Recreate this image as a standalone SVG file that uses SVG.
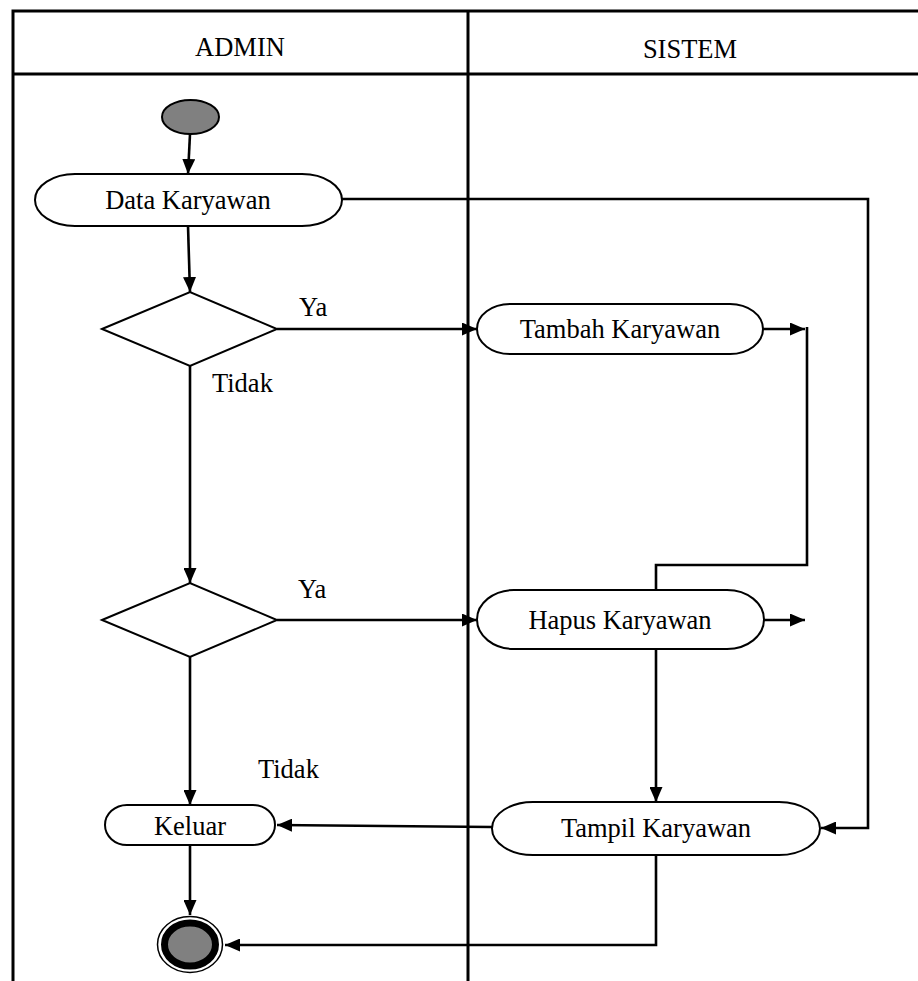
<svg xmlns="http://www.w3.org/2000/svg" width="918" height="981" viewBox="0 0 918 981">
  <style>
    .lane { stroke: #000; stroke-width: 3; fill: none; }
    .node { fill: #fff; stroke: #000; stroke-width: 2; }
    .txt { font-family: "Liberation Serif", "Times New Roman", serif; font-size: 26.5px; fill: #000; }
    .mid { text-anchor: middle; }
    .edge { stroke: #000; stroke-width: 2.6; fill: none; marker-end: url(#arrow); }
    .line { stroke: #000; stroke-width: 2.6; fill: none; }
  </style>
  <defs>
    <marker id="arrow" markerUnits="userSpaceOnUse" markerWidth="15" markerHeight="13" refX="15" refY="6.5" orient="auto">
      <path d="M0,0 L15,6.5 L0,13 z" fill="#000"/>
    </marker>
  </defs>
  <rect width="918" height="981" fill="#fff"/>

  <!-- swimlane table -->
  <g id="lanes">
    <path class="lane" d="M13,981 V11 H918 M13,74 H918 M468,11 V981"/>
    <text class="txt mid" x="240" y="56">ADMIN</text>
    <text class="txt mid" x="690" y="58">SISTEM</text>
  </g>

  <!-- connectors -->
  <g id="connectors">
    <path class="edge" d="M190,134 L188,174"/>
    <path class="edge" d="M188,226 L190,292"/>
    <path class="edge" d="M277,329 H477"/>
    <path class="edge" d="M190,366 V583"/>
    <path class="edge" d="M277,620 H477"/>
    <path class="edge" d="M190,657 V805"/>
    <path class="edge" d="M190,845 V915"/>
    <path class="edge" d="M342,199 H868 V828 H821"/>
    <path class="edge" d="M763,329 H805"/>
    <path class="line" d="M807,327 V565 H656 V590"/>
    <path class="edge" d="M764,620 H805"/>
    <path class="edge" d="M656,649 V802"/>
    <path class="edge" d="M492,827 L277,825"/>
    <path class="edge" d="M656,855 V945 H225"/>
    <text class="txt" x="299" y="316">Ya</text>
    <text class="txt" x="212" y="392">Tidak</text>
    <text class="txt" x="298" y="598">Ya</text>
    <text class="txt" x="258" y="778">Tidak</text>
  </g>

  <g id="start">
    <ellipse cx="190.5" cy="117" rx="28.5" ry="17" fill="#808080" stroke="#000" stroke-width="2"/>
  </g>

  <g id="data-karyawan">
    <rect class="node" x="35" y="174" width="307" height="52" rx="40" ry="26"/>
    <text class="txt mid" x="188" y="209">Data Karyawan</text>
  </g>

  <g id="decision-tambah">
    <polygon class="node" points="102,329 190,292 277,329 190,366"/>
  </g>

  <g id="decision-hapus">
    <polygon class="node" points="102,620 190,583 277,620 190,657"/>
  </g>

  <g id="tambah-karyawan">
    <rect class="node" x="477" y="304" width="286" height="50" rx="33" ry="25"/>
    <text class="txt mid" x="620" y="338">Tambah Karyawan</text>
  </g>

  <g id="hapus-karyawan">
    <rect class="node" x="477" y="590" width="287" height="59" rx="37" ry="29.5"/>
    <text class="txt mid" x="620" y="629">Hapus Karyawan</text>
  </g>

  <g id="tampil-karyawan">
    <rect class="node" x="492" y="802" width="328" height="53" rx="41" ry="26.5"/>
    <text class="txt mid" x="656" y="837">Tampil Karyawan</text>
  </g>

  <g id="keluar">
    <rect class="node" x="105" y="805" width="170" height="40" rx="22" ry="20"/>
    <text class="txt mid" x="190" y="835">Keluar</text>
  </g>

  <g id="end">
    <ellipse cx="190" cy="944.5" rx="32.5" ry="28" fill="#fff" stroke="#000" stroke-width="1.5"/>
    <ellipse cx="190" cy="944.5" rx="25.5" ry="21.5" fill="#808080" stroke="#000" stroke-width="7"/>
  </g>
</svg>
